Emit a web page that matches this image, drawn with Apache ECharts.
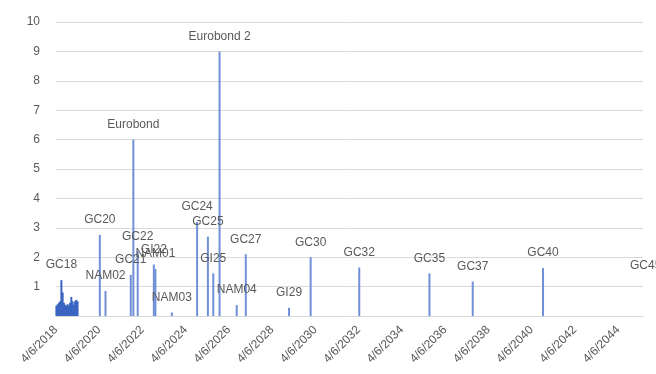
<!DOCTYPE html>
<html>
<head>
<meta charset="utf-8">
<script src="https://cdn.jsdelivr.net/npm/echarts@6/dist/echarts.min.js"></script>
<style>
html,body{margin:0;padding:0;background:#fff;}
#chart{width:656px;height:374px;}
</style>
</head>
<body>
<div id="chart"></div>
<script>
// Axis start date and tick labels (every 2 years)
var axisStart = '2018-04-06';
var tickLabels = ['4/6/2018','4/6/2020','4/6/2022','4/6/2024','4/6/2026','4/6/2028','4/6/2030','4/6/2032','4/6/2034','4/6/2036','4/6/2038','4/6/2040','4/6/2042','4/6/2044'];
var yTicks = ['', '1', '2', '3', '4', '5', '6', '7', '8', '9', '10'];

// Named bonds
var bondNames = ['GC20','NAM02','GC21','Eurobond','GC22','GI22','NAM01','NAM03','GC24','GC25','GI25','Eurobond 2','NAM04','GC27','GI29','GC30','GC32','GC35','GC37','GC40','GC45'];
var bondMaturities = ['2020-04-15','2020-07-20','2021-09-20','2021-11-03','2022-01-15','2022-10-15','2022-11-10','2023-08-15','2024-10-15','2025-04-15','2025-07-15','2025-10-29','2026-08-15','2027-01-15','2029-01-15','2030-01-15','2032-04-15','2035-07-15','2037-07-15','2040-10-15','2045-07-15'];
var bondAmounts = [2.76,0.85,1.4,6.0,2.2,1.75,1.6,0.12,3.2,2.7,1.45,9.0,0.37,2.1,0.28,2.0,1.65,1.45,1.17,1.63,1.2];

// Short-dated cluster (2018-2019)
var clusterNames = ['','','','','GC18','','','','','','','','','','','','',''];
var clusterDates = ['2018-04-13','2018-05-04','2018-05-25','2018-06-15','2018-07-06','2018-07-27','2018-08-17','2018-09-07','2018-09-28','2018-10-19','2018-11-09','2018-11-30','2018-12-21','2019-01-11','2019-02-01','2019-02-22','2019-03-15','2019-04-05'];
var clusterAmounts = [0.35,0.4,0.45,0.5,1.22,0.8,0.45,0.38,0.35,0.4,0.35,0.45,0.65,0.5,0.38,0.5,0.55,0.5];

var YEAR_MS = 365.25 * 86400000;
var t0 = Date.parse(axisStart);
function toYears(d) { return (Date.parse(d) - t0) / YEAR_MS; }

var axisMaxYears = 27.15;

var bondData = bondNames.map(function (n, i) {
  var item = { value: [toYears(bondMaturities[i]), bondAmounts[i]], name: n };
  if (toYears(bondMaturities[i]) > axisMaxYears) {
    item.itemStyle = { color: 'rgba(0,0,0,0)' };
  }
  return item;
});
var clusterData = clusterDates.map(function (d, i) {
  return { value: [toYears(d), clusterAmounts[i]], name: clusterNames[i] };
});

var labelStyle = {
  show: true,
  position: 'top',
  distance: 9,
  color: '#595959',
  fontSize: 12,
  fontFamily: 'Liberation Sans, Arial, sans-serif',
  formatter: function (p) { return p.name; }
};

var chart = echarts.init(document.getElementById('chart'), null, { renderer: 'canvas' });
chart.setOption({
  animation: false,
  backgroundColor: '#ffffff',
  grid: { left: 56, right: 13, top: 22, bottom: 58, containLabel: false },
  xAxis: {
    type: 'value',
    min: 0,
    max: axisMaxYears,
    interval: 2,
    axisLine: { show: true, lineStyle: { color: '#d9d9d9' } },
    axisTick: { show: false },
    splitLine: { show: false },
    axisLabel: {
      rotate: 45,
      margin: 12,
      color: '#595959',
      fontSize: 12,
      fontFamily: 'Liberation Sans, Arial, sans-serif',
      showMaxLabel: false,
      formatter: function (v) {
        var idx = Math.round(v / 2);
        if (Math.abs(v / 2 - idx) > 1e-6) return '';
        return tickLabels[idx] || '';
      }
    }
  },
  yAxis: {
    type: 'value',
    min: 0,
    max: 10,
    interval: 1,
    axisLine: { show: false },
    axisTick: { show: false },
    splitLine: { show: true, lineStyle: { color: '#d9d9d9', width: 1 } },
    axisLabel: {
      margin: 16,
      color: '#595959',
      fontSize: 12,
      fontFamily: 'Liberation Sans, Arial, sans-serif',
      formatter: function (v) { return yTicks[Math.round(v)]; }
    }
  },
  series: [
    {
      name: 'Short-dated',
      type: 'bar',
      data: clusterData,
      barWidth: 2,
      barGap: '-100%',
      clip: false,
      itemStyle: { color: '#3a64c2' },
      label: labelStyle
    },
    {
      name: 'Bonds',
      type: 'bar',
      data: bondData,
      barWidth: 2,
      barGap: '-100%',
      clip: false,
      itemStyle: { color: '#6f8fd8' },
      label: labelStyle
    }
  ]
});
</script>
</body>
</html>
